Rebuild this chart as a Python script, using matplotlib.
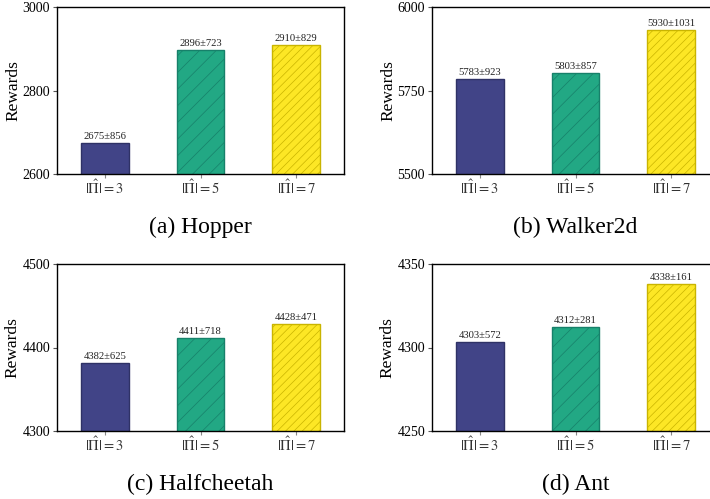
import matplotlib
matplotlib.use("Agg")
import matplotlib.pyplot as plt

plt.rcParams['font.family'] = ['Liberation Serif', 'DejaVu Serif']
plt.rcParams['mathtext.fontset'] = 'stix'
plt.rcParams['hatch.linewidth'] = 0.5

categories = [r'$|\hat{\Pi}| = 3$', r'$|\hat{\Pi}| = 5$', r'$|\hat{\Pi}| = 7$']
titles = ['(a) Hopper', '(b) Walker2d', '(c) Halfcheetah', '(d) Ant']
hopper_mean = [2675, 2896, 2910]
hopper_std = [856, 723, 829]
walker_mean = [5783, 5803, 5930]
walker_std = [923, 857, 1031]
cheetah_mean = [4382, 4411, 4428]
cheetah_std = [625, 718, 471]
ant_mean = [4303, 4312, 4338]
ant_std = [572, 281, 161]
ylims = [(2600, 3000), (5500, 6000), (4300, 4500), (4250, 4350)]
yticks = [[2600, 2800, 3000], [5500, 5750, 6000], [4300, 4400, 4500], [4250, 4300, 4350]]

means = [hopper_mean, walker_mean, cheetah_mean, ant_mean]
stds = [hopper_std, walker_std, cheetah_std, ant_std]

colors = ['#414487', '#22A884', '#FDE725']
edges = ['#2f3266', '#17806a', '#c9b400']
hatches = ['', '//', '////']

W, H = 710, 499
fig = plt.figure(figsize=(W / 100, H / 100), dpi=100)

# pixel boxes: (left, top, right, bottom)
boxes = [(57, 7, 344, 174), (432, 7, 719, 174), (57, 264, 344, 431), (432, 264, 719, 431)]
title_y = [227, 227, 484, 484]

for i in range(4):
    l, t, r, b = boxes[i]
    ax = fig.add_axes([l / W, 1 - b / H, (r - l) / W, (b - t) / H])
    x = list(range(len(categories)))
    bars = ax.bar(x, means[i], width=0.5, color=colors, edgecolor=edges, linewidth=1.0)
    for bar, h in zip(bars, hatches):
        bar.set_hatch(h)
    for xi, m, s in zip(x, means[i], stds[i]):
        ax.text(xi, m + (ylims[i][1] - ylims[i][0]) * 0.012, f'{m}±{s}',
                ha='center', va='bottom', fontsize=7.7, color='#222222')
    ax.set_xlim(-0.5, 2.5)
    ax.set_ylim(*ylims[i])
    ax.set_yticks(yticks[i])
    ax.set_xticks(x)
    ax.set_xticklabels(categories, fontsize=10.5, color='#333333')
    ax.tick_params(axis='y', labelsize=10, length=3, color='#555555', pad=2)
    ax.tick_params(axis='x', length=3, color='#888888', pad=0.5)
    ax.set_ylabel('Rewards', fontsize=12.5, labelpad=1)
    for sp in ax.spines.values():
        sp.set_linewidth(1.0)
    fig.text(((l + r) / 2) / W, 1 - title_y[i] / H, titles[i], ha='center', va='center', fontsize=17)

fig.savefig('out.png', dpi=100)
